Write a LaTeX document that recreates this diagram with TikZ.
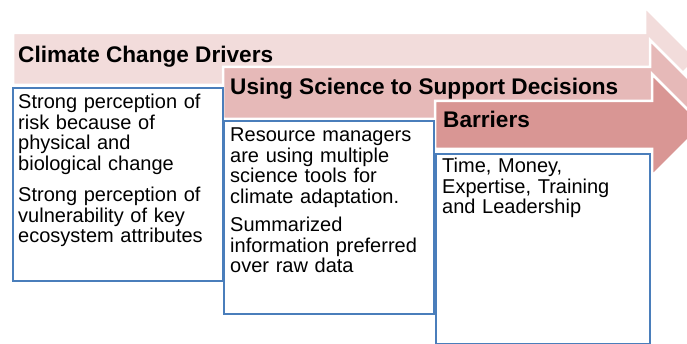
\documentclass[tikz,border=0pt]{standalone}
\usepackage{fontspec}
\setmainfont{Liberation Sans}

\definecolor{drvpink}{HTML}{F2DCDB}
\definecolor{scipink}{HTML}{E6B9B8}
\definecolor{barpink}{HTML}{D99694}
\definecolor{boxblue}{HTML}{4A7EBB}

\tikzset{
  bigarrow/.style={draw=white, line width=2.5pt, line join=miter},
  infobox/.style={draw=boxblue, line width=2.2pt, fill=white, anchor=north west, inner sep=0pt},
  headtext/.style={font=\fontsize{22.6}{26}\selectfont\bfseries, anchor=base west, inner sep=0pt},
  boxtext/.style={font=\fontsize{20}{20.5}\selectfont, anchor=base west, inner sep=0pt, text width=205pt, align=left}
}

\begin{document}
\begin{tikzpicture}[x=1pt,y=-1pt]
    \useasboundingbox (0,0) rectangle (687,344);
    \clip (0,0) rectangle (687,344);

    % drivers arrow
    \draw [bigarrow, fill=drvpink] (13,33) -- (645,33) -- (645,7) -- (697,59) -- (645,111) -- (645,85) -- (13,85) -- cycle;
    % science arrow
    \draw [bigarrow, fill=scipink] (223,67) -- (650,67) -- (650,40) -- (703,93) -- (650,146) -- (650,119) -- (223,119) -- cycle;
    % barriers arrow
    \draw [bigarrow, fill=barpink] (435,101) -- (652,101) -- (652,74) -- (703,125) -- (652,176) -- (652,149) -- (435,149) -- cycle;

    % label
    \node [headtext] (drvhead) at (18,63) {Climate Change Drivers};
    \node [headtext] (scihead) at (230,95) {Using Science to Support Decisions};
    \node [headtext] (barhead) at (443,128) {Barriers};

    % boxes
    \node [infobox, minimum width=210pt, minimum height=193pt] (drvbox) at (12,87) {};
    \node [infobox, minimum width=210pt, minimum height=193pt] (scibox) at (223,120) {};
    \node [infobox, minimum width=214pt, minimum height=190pt] (barbox) at (435,153) {};

    % text
    \node [boxtext] (drvtxta) at (18,109) {Strong perception of\\risk because of\\physical and\\biological change};
    \node [boxtext] (drvtxtb) at (18,202) {Strong perception of\\vulnerability  of key\\ecosystem attributes};
    \node [boxtext] (scitxta) at (230,142) {Resource managers\\are using multiple\\science tools for\\climate adaptation.};
    \node [boxtext] (scitxtb) at (230,232) {Summarized\\information preferred\\over raw  data};
    \node [boxtext] (bartxt) at (442,173) {Time, Money,\\Expertise, Training\\and Leadership};
\end{tikzpicture}
\end{document}
